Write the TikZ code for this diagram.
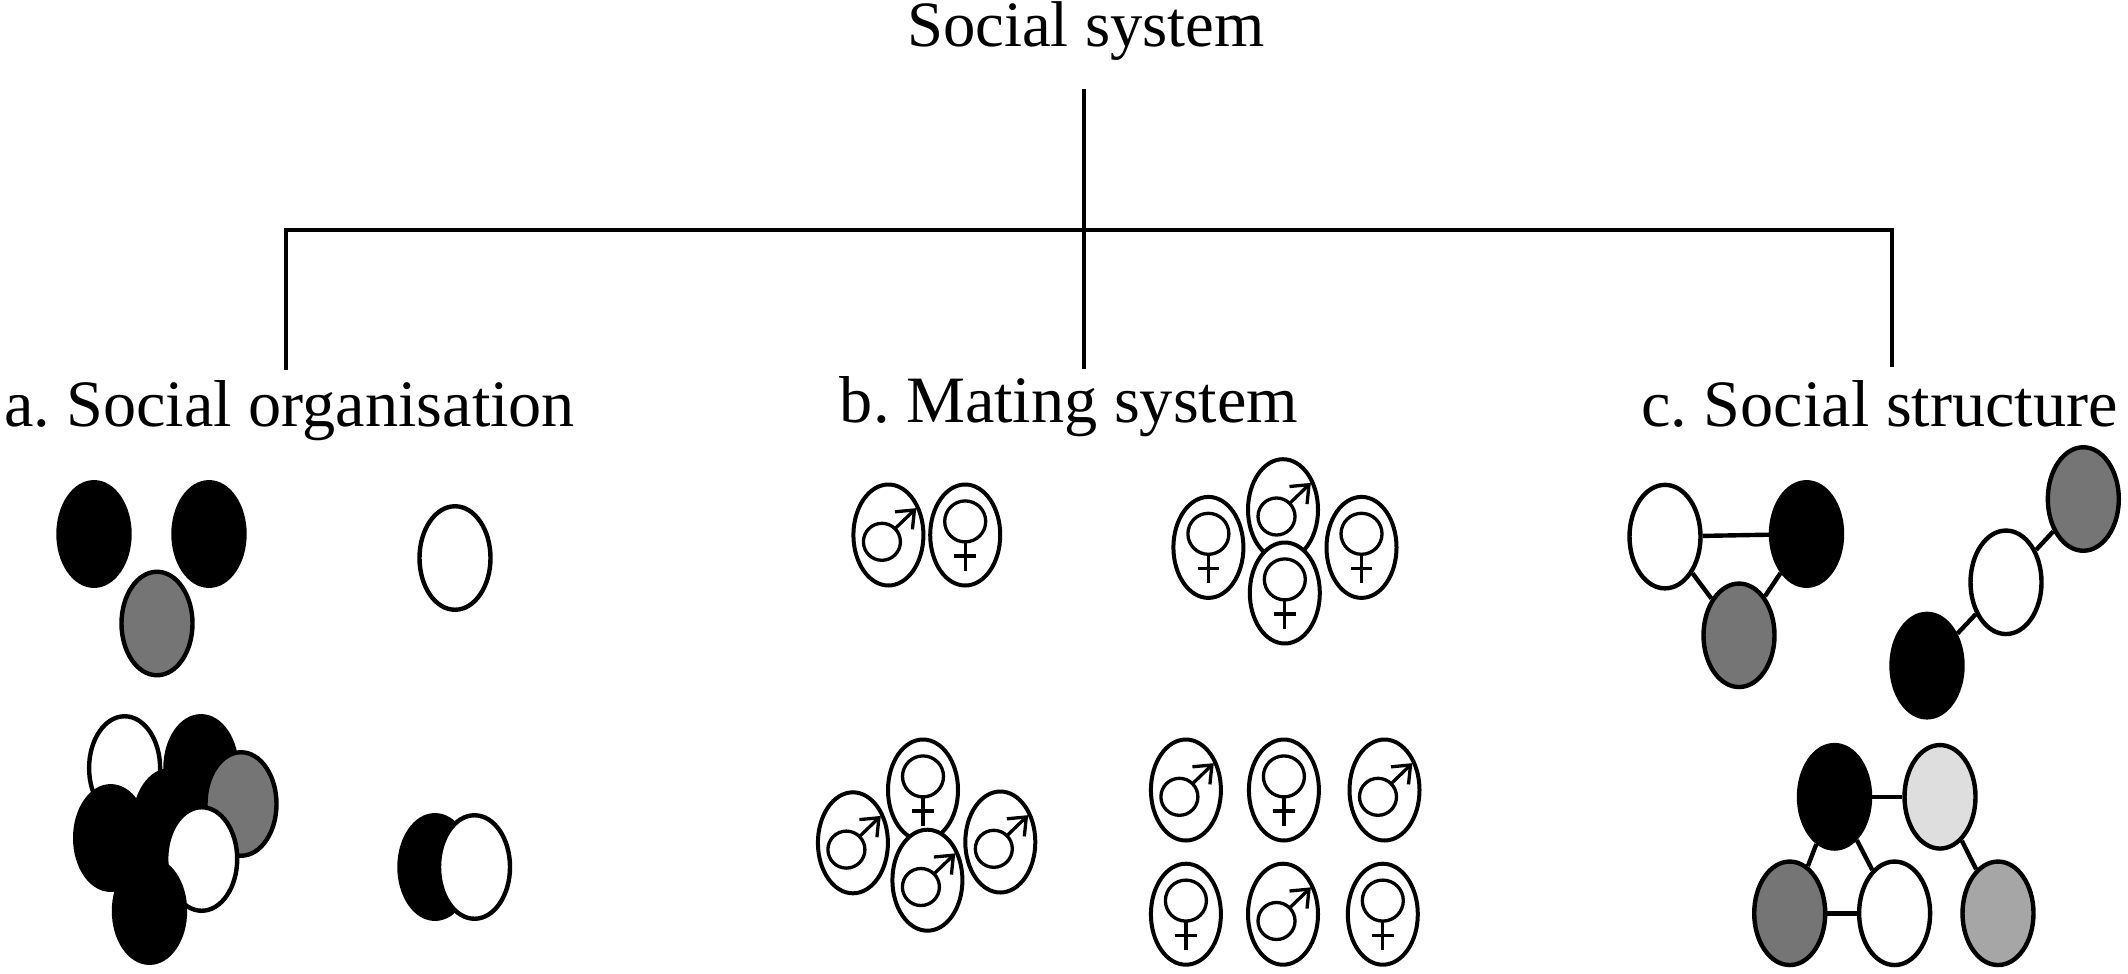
\documentclass[tikz,border=0pt]{standalone}
\usepackage{fontspec}
\setmainfont{Liberation Serif}
\usetikzlibrary{shapes.geometric}
\newcommand{\malesign}{\begin{scope}[shift={(path picture bounding box.center)}]
\draw[signline] (-0.065,-0.068) circle (0.185cm);
\draw[signline] (0.066,0.063) -- (0.26,0.25);
\draw[signline] (0.065,0.232) -- (0.26,0.25) -- (0.24,0.056);
\end{scope}}
\newcommand{\femalesign}{\begin{scope}[shift={(path picture bounding box.center)}]
\draw[signline] (0,0.136) circle (0.205cm);
\draw[signline] (0,-0.069) -- (0,-0.357);
\draw[signline] (-0.108,-0.21) -- (0.108,-0.21);
\end{scope}}
\tikzset{
  heading/.style={font=\fontsize{18.85}{22}\selectfont, inner sep=0pt},
  treeline/.style={line width=0.043cm},
  signline/.style={line width=0.033cm},
  indiv/.style={ellipse, draw=black, line width=0.044cm, minimum width=0.71cm, minimum height=1.035cm, inner sep=0pt, fill=white},
  blackind/.style={indiv, fill=black},
  darkind/.style={indiv, fill=black!54},
  midind/.style={indiv, fill=black!35},
  lightind/.style={indiv, fill=black!13},
  maleind/.style={indiv, line width=0.04cm, minimum width=0.7cm, minimum height=1.01cm, path picture={\malesign}},
  femaleind/.style={indiv, line width=0.04cm, minimum width=0.7cm, minimum height=1.01cm, path picture={\femalesign}},
  linkline/.style={line width=0.044cm}
}
\frenchspacing
\begin{document}
\begin{tikzpicture}
\useasboundingbox (0,0) rectangle (21.28,-9.73);
\node[heading, font=\fontsize{18.4}{22}\selectfont, anchor=base] (socsys) at (10.86,-0.47) {Social system};
\node[heading, anchor=base] (socorg) at (2.895,-4.26) {a. Social organisation};
\node[heading, anchor=base] (mating) at (10.69,-4.22) {b. Mating system};
\node[heading, anchor=base] (socstr) at (18.795,-4.26) {c. Social structure};
\coordinate (trunk) at (10.84,-0.89);
\coordinate (hub) at (10.84,-2.3);
\coordinate (hubl) at (2.86,-2.3);
\coordinate (hubr) at (18.92,-2.3);
\coordinate (endl) at (2.86,-3.7);
\coordinate (endm) at (10.84,-3.69);
\coordinate (endr) at (18.92,-3.67);
\draw[treeline] (trunk) -- (hub);
\draw[treeline] (hub) -- (endm);
\draw[treeline] (endl) -- (hubl) -- (hubr) -- (endr);
\node[blackind] (a1) at (0.94,-5.34) {};
\node[blackind] (a2) at (2.09,-5.34) {};
\node[darkind] (a3) at (1.57,-6.235) {};
\node[indiv] (a4) at (4.55,-5.58) {};
\node[indiv] (b1) at (1.246,-7.68) {};
\node[blackind] (b2) at (2.01,-7.68) {};
\node[darkind] (b3) at (2.41,-8.04) {};
\node[blackind] (b4) at (1.7,-8.22) {};
\node[blackind] (b5) at (1.107,-8.38) {};
\node[indiv] (b6) at (2.017,-8.59) {};
\node[blackind] (b7) at (1.495,-9.11) {};
\node[blackind] (b8) at (4.35,-8.67) {};
\node[indiv] (b9) at (4.745,-8.67) {};
\node[maleind] (c1) at (8.884,-5.35) {};
\node[femaleind] (c2) at (9.652,-5.35) {};
\node[femaleind] (d1) at (12.084,-5.474) {};
\node[maleind] (d2) at (12.83,-5.097) {};
\node[femaleind] (d3) at (12.848,-5.93) {};
\node[femaleind] (d4) at (13.615,-5.474) {};
\node[femaleind] (e1) at (9.23,-7.9) {};
\node[maleind] (e2) at (8.529,-8.428) {};
\node[maleind] (e3) at (9.274,-8.802) {};
\node[maleind] (e4) at (10.003,-8.42) {};
\node[maleind] (f1) at (11.859,-7.9) {};
\node[femaleind] (f2) at (12.839,-7.9) {};
\node[maleind] (f3) at (13.845,-7.9) {};
\node[femaleind] (f4) at (11.859,-9.142) {};
\node[maleind] (f5) at (12.83,-9.142) {};
\node[femaleind] (f6) at (13.828,-9.142) {};
\node[indiv] (g1) at (16.65,-5.366) {};
\node[blackind] (g2) at (18.065,-5.34) {};
\node[darkind] (g3) at (17.39,-6.353) {};
\draw[linkline] (g1) -- (g2);
\draw[linkline] (g1) -- (g3);
\draw[linkline] (g2) -- (g3);
\node[blackind] (h1) at (19.27,-6.656) {};
\node[indiv] (h2) at (20.06,-5.823) {};
\node[darkind] (h3) at (20.833,-4.99) {};
\draw[linkline] (h1) -- (h2);
\draw[linkline] (h2) -- (h3);
\node[blackind] (i1) at (18.345,-7.968) {};
\node[lightind] (i2) at (19.4,-7.968) {};
\node[darkind] (i3) at (17.897,-9.133) {};
\node[indiv] (i4) at (18.946,-9.133) {};
\node[midind] (i5) at (19.98,-9.133) {};
\draw[linkline] (i1) -- (i2);
\draw[linkline] (i1) -- (i3);
\draw[linkline] (i1) -- (i4);
\draw[linkline] (i3) -- (i4);
\draw[linkline] (i2) -- (i5);
\end{tikzpicture}
\end{document}
